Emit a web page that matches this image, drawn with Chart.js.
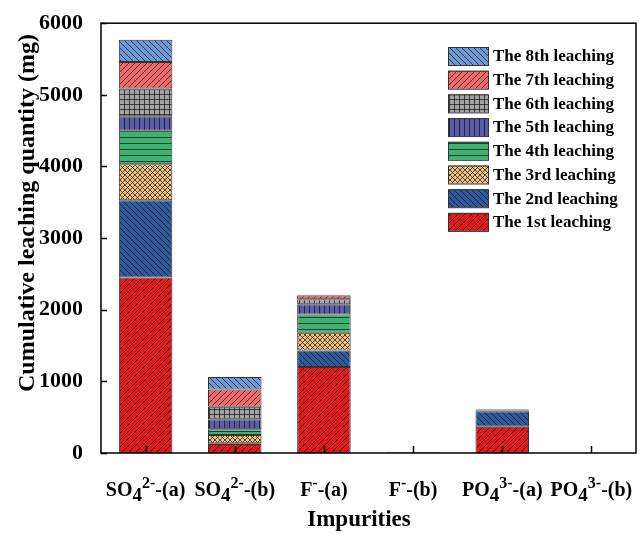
<!DOCTYPE html>
<html>
<head>
<meta charset="utf-8">
<script src="https://cdn.jsdelivr.net/npm/chart.js@4/dist/chart.umd.min.js"></script>
<style>
  html, body { margin: 0; padding: 0; background: #fff; }
  canvas { display: block; }
</style>
</head>
<body>
<canvas id="myChart" width="641" height="534"></canvas>
<script>
// categories use a tiny markup: _{..} subscript, ^{..} superscript
let categories = ['SO_{4}^{2-}-(a)', 'SO_{4}^{2-}-(b)', 'F^{-}-(a)', 'F^{-}-(b)', 'PO_{4}^{3-}-(a)', 'PO_{4}^{3-}-(b)'];
let seriesNames = ['The 1st leaching', 'The 2nd leaching', 'The 3rd leaching', 'The 4th leaching',
                   'The 5th leaching', 'The 6th leaching', 'The 7th leaching', 'The 8th leaching'];
let leach1 = [2450, 125, 1200, 5, 365, 1];
let leach2 = [1080, 10, 230, 3, 217, 0];
let leach3 = [500, 115, 250, 2, 10, 0];
let leach4 = [470, 80, 255, 2, 12, 0];
let leach5 = [200, 140, 140, 1, 8, 0];
let leach6 = [390, 175, 70, 1, 4, 0];
let leach7 = [370, 240, 55, 1, 2, 0];
let leach8 = [310, 175, 10, 1, 1, 0];
let yTicks = [0, 1000, 2000, 3000, 4000, 5000, 6000];

let seriesValues = [leach1, leach2, leach3, leach4, leach5, leach6, leach7, leach8];
let baseColors = ['#DE1A1A', '#2F5B9C', '#F3C07E', '#3DB36F', '#5A5DA5', '#A3A3A3', '#F06A6A', '#6E9AD6'];
let hatchKinds = ['fwd', 'back', 'cross', 'horiz', 'vert', 'grid', 'fwd', 'back'];
let hatchSizes = [7, 6, 5, 6, 5, 5, 6, 6];

const serif = "'Liberation Serif', 'Times New Roman', serif";

function makePattern(base, kind, s) {
    let c = document.createElement('canvas');
    c.width = s; c.height = s;
    let g = c.getContext('2d');
    g.fillStyle = base;
    g.fillRect(0, 0, s, s);
    g.strokeStyle = 'rgba(15,15,25,0.7)';
    g.lineWidth = 1;
    g.beginPath();
    if (kind == 'fwd' || kind == 'cross') {
        g.moveTo(0, s); g.lineTo(s, 0);
        g.moveTo(-1, 1); g.lineTo(1, -1);
        g.moveTo(s - 1, s + 1); g.lineTo(s + 1, s - 1);
    }
    if (kind == 'back' || kind == 'cross') {
        g.moveTo(0, 0); g.lineTo(s, s);
        g.moveTo(-1, s - 1); g.lineTo(1, s + 1);
        g.moveTo(s - 1, -1); g.lineTo(s + 1, 1);
    }
    if (kind == 'horiz' || kind == 'grid') {
        g.moveTo(0, s - 0.5); g.lineTo(s, s - 0.5);
    }
    if (kind == 'vert' || kind == 'grid') {
        g.moveTo(s - 0.5, 0); g.lineTo(s - 0.5, s);
    }
    g.stroke();
    return g.createPattern(c, 'repeat');
}

let patterns = baseColors.map((col, i) => makePattern(col, hatchKinds[i], hatchSizes[i]));

function parseLabel(str) {
    let parts = [];
    let re = /_\{([^}]*)\}|\^\{([^}]*)\}|([^_^]+)/g;
    let m;
    while ((m = re.exec(str)) !== null) {
        if (m[1] !== undefined) parts.push({ t: m[1], kind: 'sub' });
        else if (m[2] !== undefined) parts.push({ t: m[2], kind: 'sup' });
        else parts.push({ t: m[3], kind: 'n' });
    }
    return parts;
}

let decorations = {
    id: 'decorations',
    afterDatasetsDraw(chart) {
        let ctx = chart.ctx, a = chart.chartArea;
        let x = chart.scales.x, y = chart.scales.y;
        ctx.save();
        ctx.strokeStyle = '#000';
        ctx.lineWidth = 1.5;
        ctx.strokeRect(a.left, a.top, a.right - a.left, a.bottom - a.top);
        ctx.beginPath();
        yTicks.forEach(v => {
            let py = Math.round(y.getPixelForValue(v)) + 0.5;
            ctx.moveTo(a.left, py); ctx.lineTo(a.left + 6, py);
        });
        categories.forEach((c, i) => {
            let px = Math.round(x.getPixelForValue(i)) + 0.5;
            ctx.moveTo(px, a.bottom); ctx.lineTo(px, a.bottom - 7);
        });
        ctx.stroke();
        ctx.restore();
    },
    afterDraw(chart) {
        let ctx = chart.ctx, a = chart.chartArea;
        let x = chart.scales.x;
        ctx.save();
        ctx.fillStyle = '#000';
        ctx.textBaseline = 'alphabetic';
        // category labels with sub/superscripts
        categories.forEach((c, i) => {
            let parts = parseLabel(c);
            let sizes = { n: 20, sub: 19, sup: 16 };
            let offs = { n: 0, sub: 5, sup: -8 };
            let w = 0;
            parts.forEach(p => {
                ctx.font = 'bold ' + sizes[p.kind] + 'px ' + serif;
                p.w = ctx.measureText(p.t).width;
                w += p.w;
            });
            let cx = x.getPixelForValue(i) - w / 2;
            parts.forEach(p => {
                ctx.font = 'bold ' + sizes[p.kind] + 'px ' + serif;
                ctx.fillText(p.t, cx, 496 + offs[p.kind]);
                cx += p.w;
            });
        });
        // axis titles
        ctx.textAlign = 'center';
        ctx.textBaseline = 'middle';
        ctx.font = 'bold 23px ' + serif;
        ctx.fillText('Impurities', 359, 520);
        ctx.save();
        ctx.translate(28, 213);
        ctx.rotate(-Math.PI / 2);
        ctx.font = 'bold 24px ' + serif;
        ctx.fillText('Cumulative leaching quantity (mg)', 0, 0);
        ctx.restore();
        // legend, reversed order
        ctx.textAlign = 'left';
        ctx.font = 'bold 17px ' + serif;
        ctx.lineWidth = 1;
        ctx.strokeStyle = '#333';
        for (let i = seriesNames.length - 1; i >= 0; i--) {
            let row = seriesNames.length - 1 - i;
            let top = 47 + row * 23.7;
            ctx.fillStyle = patterns[i];
            ctx.fillRect(448, top, 40, 18);
            ctx.strokeRect(448.5, top + 0.5, 40, 18);
            ctx.fillStyle = '#000';
            ctx.fillText(seriesNames[i], 493, top + 10);
        }
        ctx.restore();
    }
};

let ctx = document.getElementById('myChart').getContext('2d');
var myChart = new Chart(ctx, {
    type: 'bar',
    data: {
        labels: categories,
        datasets: seriesValues.map((vals, i) => ({
            label: seriesNames[i],
            data: vals,
            backgroundColor: patterns[i],
            borderColor: '#333',
            borderWidth: 1,
            borderSkipped: false,
            barPercentage: 0.6,
            categoryPercentage: 1
        }))
    },
    options: {
        responsive: false,
        animation: false,
        layout: { padding: { top: 20, right: 5, left: 0, bottom: 0 } },
        plugins: {
            legend: { display: false },
            tooltip: { enabled: false }
        },
        scales: {
            x: {
                stacked: true,
                offset: true,
                grid: { display: false },
                border: { display: false },
                ticks: { display: false },
                afterFit: s => { s.height = 81; }
            },
            y: {
                stacked: true,
                min: 0,
                max: 6000,
                grid: { display: false },
                border: { display: false },
                ticks: {
                    stepSize: 1000,
                    padding: 10,
                    color: '#000',
                    font: { family: serif, size: 22, weight: 'bold' },
                    callback: v => String(v)
                },
                afterFit: s => { s.width = 101; }
            }
        }
    },
    plugins: [decorations]
});
</script>
</body>
</html>
